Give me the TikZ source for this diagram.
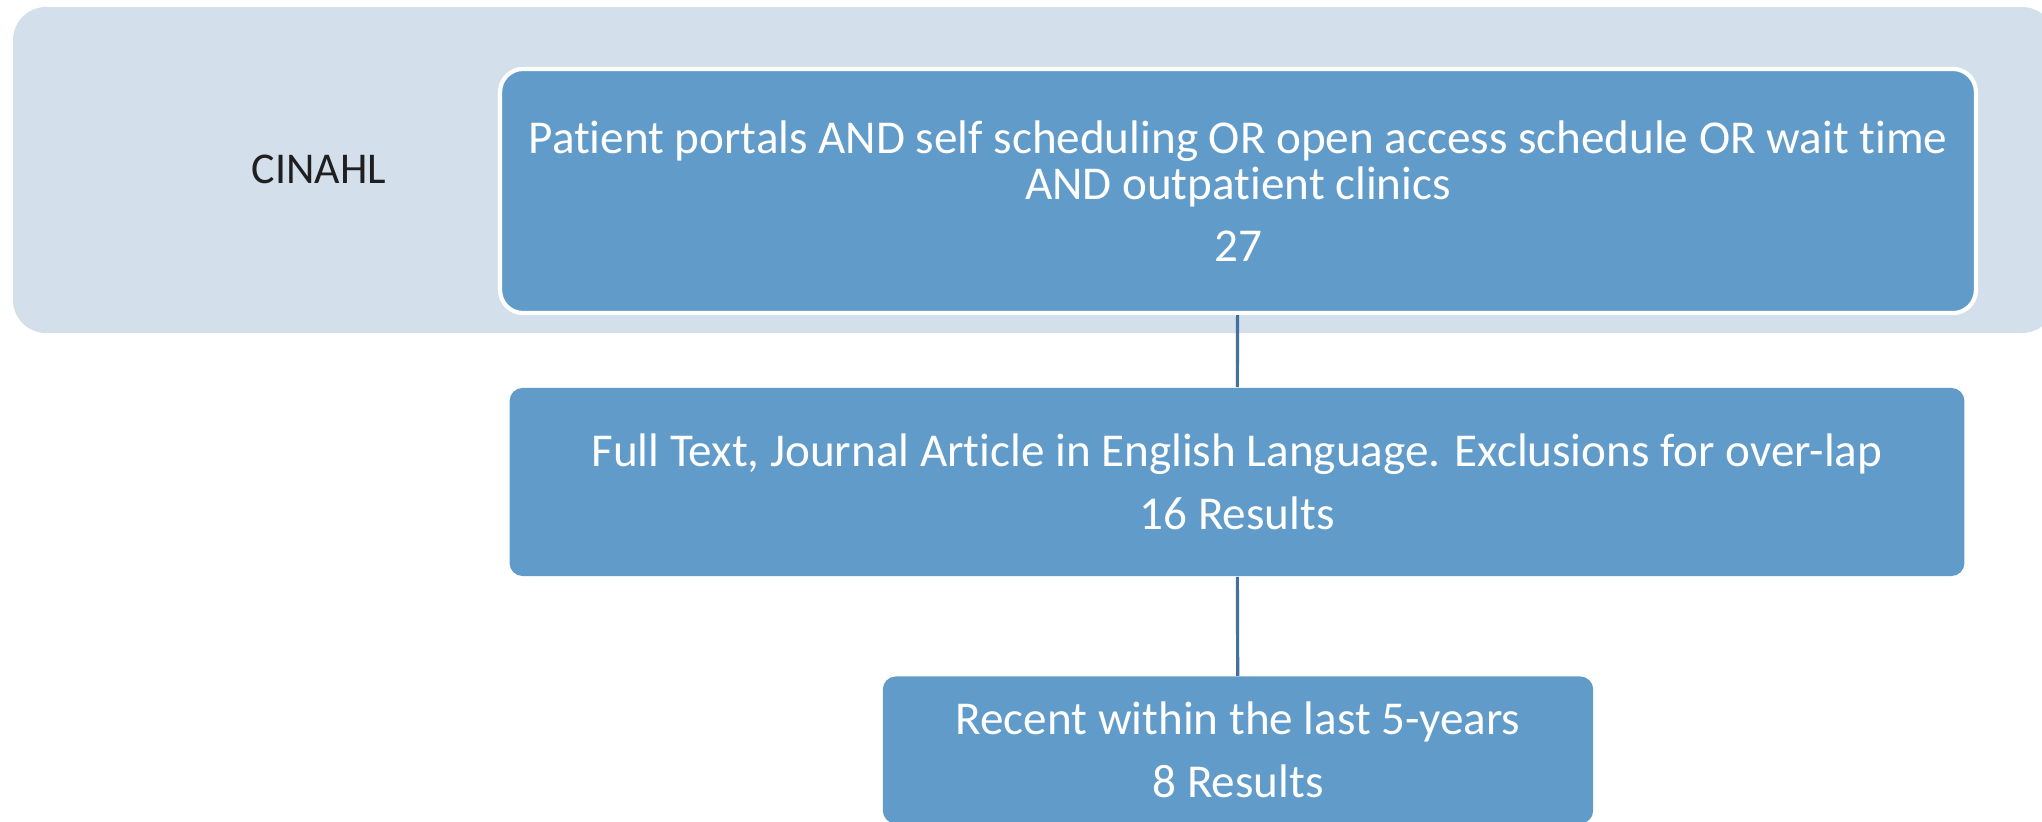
\documentclass[tikz,border=0pt]{standalone}
\usepackage{fontspec}
\setmainfont{Carlito}[Ligatures=NoCommon]
\usepackage{tikz}

\definecolor{panelgray}{RGB}{211,223,235}
\definecolor{stageblue}{RGB}{97,155,201}
\definecolor{linkblue}{RGB}{65,113,156}

\begin{document}
\begin{tikzpicture}[x=0.01cm, y=-0.01cm,
    stage/.style={fill=stageblue, text=white, align=center, inner sep=0pt,
      font=\fontsize{13.4}{13.3}\selectfont},
    link/.style={draw=linkblue, line width=0.9pt}]
  % 1. page frame
  \useasboundingbox (0,0) rectangle (2042,821);
  \clip (0,0) rectangle (2042,821);

  % 2. light band behind the database step
  \fill[panelgray, rounded corners=0.33cm] (13,7) rectangle (2055,333);
  \node[text=black!88, font=\fontsize{12.5}{15}\selectfont] (db) at (319,169) {CINAHL};

  % 3. the three filtering steps
  \node[stage, draw=white, line width=1.2pt, rounded corners=0.23cm,
        minimum width=14.75cm, minimum height=2.44cm] (search) at (1238,191)
    {Patient portals AND self scheduling OR open access schedule OR wait time\\
     AND outpatient clinics\\[4.3pt] 27};
  \node[stage, rounded corners=0.13cm,
        minimum width=14.54cm, minimum height=1.88cm] (fulltext) at (1237,482)
    {Full Text, Journal Article in English Language. Exclusions for over-lap\\[4.5pt]
     16 Results};
  \node[stage, rounded corners=0.13cm,
        minimum width=7.10cm, minimum height=1.47cm] (recent) at (1238,750)
    {Recent within the last 5-years\\[4.5pt] 8 Results};

  % 4. connectors
  \draw[link] (search) -- (fulltext);
  \draw[link] (fulltext) -- (recent);
\end{tikzpicture}
\end{document}
